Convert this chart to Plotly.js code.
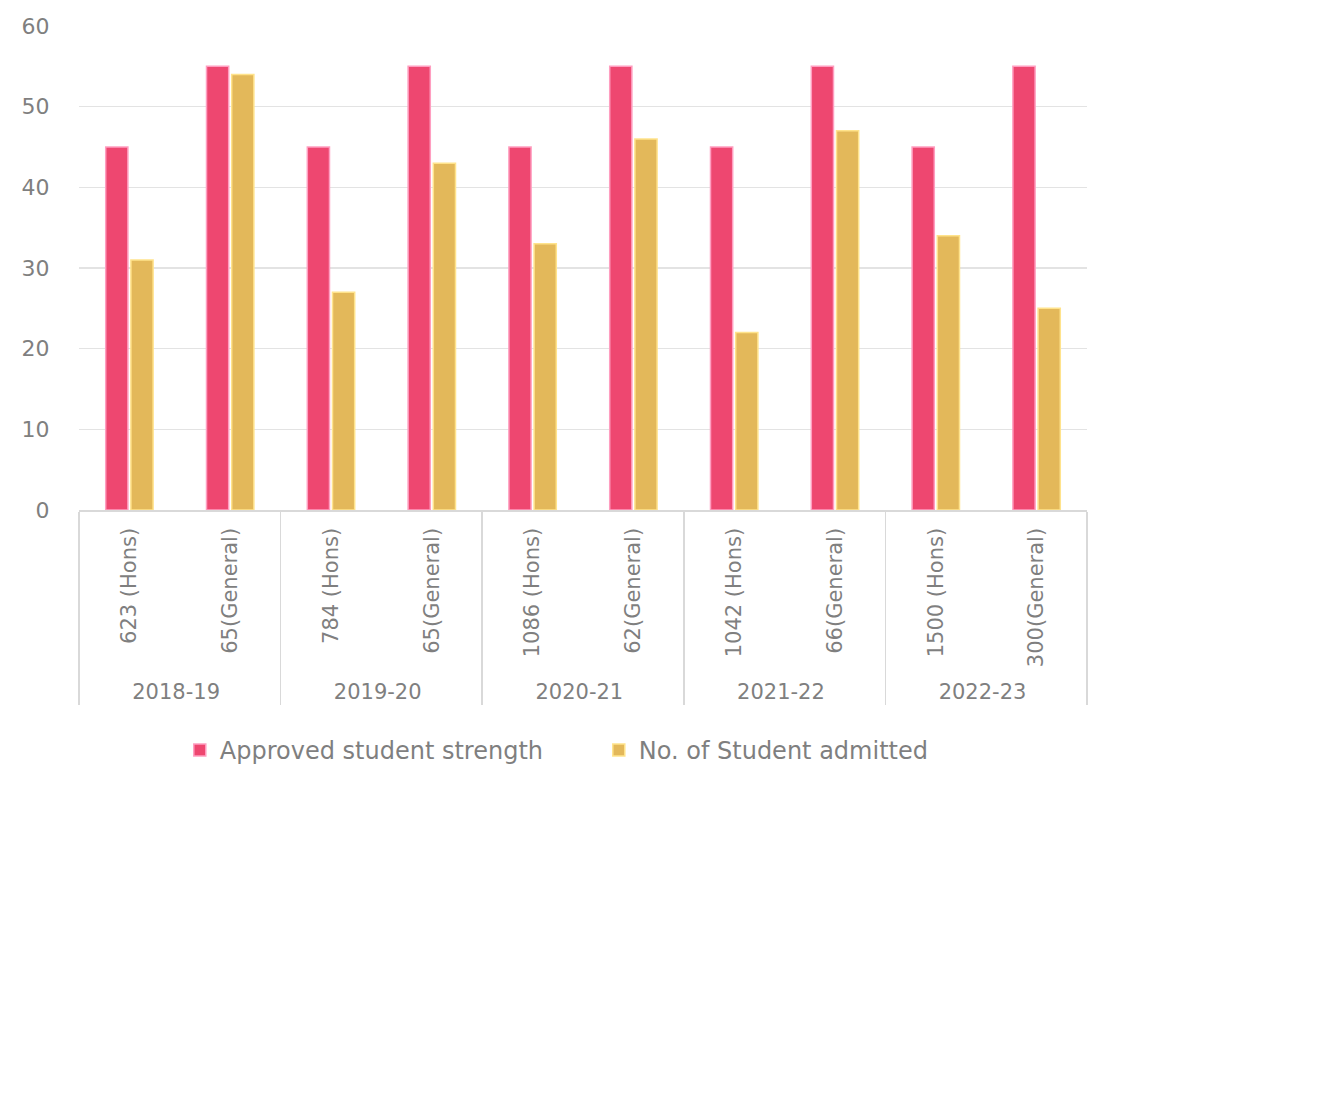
<!DOCTYPE html>
<html>
<head>
<meta charset="utf-8">
<script src="https://cdn.plot.ly/plotly-3.0.1.min.js"></script>
<style>
  html, body { margin: 0; padding: 0; background: #fff; }
  #chart { width: 1325px; height: 1103px; }
</style>
</head>
<body>
<div id="chart"></div>
<script>
'use strict';

const years = ['2018-19', '2018-19', '2019-20', '2019-20', '2020-21', '2020-21',
  '2021-22', '2021-22', '2022-23', '2022-23'];
// the second "65(General)" gets a zero width space so plotly keeps it after "784 (Hons)"
const courses = ['623 (Hons)', '65(General)', '784 (Hons)', '65(General)\u200B', '1086 (Hons)',
  '62(General)', '1042 (Hons)', '66(General)', '1500 (Hons)', '300(General)'];
const approved = [45, 55, 45, 55, 45, 55, 45, 55, 45, 55];
const admitted = [31, 54, 27, 43, 33, 46, 22, 47, 34, 25];

const grey = '#7f7f7f';
const fontFamily = 'DejaVu Sans, Verdana, sans-serif';

const trace1 = {
  type: 'bar',
  name: 'Approved student strength',
  x: [years, courses],
  y: approved,
  marker: { color: '#EE4770', line: { color: '#FF9EC0', width: 1.5 } },
  hoverinfo: 'y'
};

const trace2 = {
  type: 'bar',
  name: 'No. of Student admitted',
  x: [years, courses],
  y: admitted,
  marker: { color: '#E3B85A', line: { color: '#FFE38C', width: 1.5 } },
  hoverinfo: 'y'
};

const layout = {
  width: 1325,
  height: 1103,
  margin: { l: 79, r: 238, t: 26, b: 593 },
  paper_bgcolor: '#fff',
  plot_bgcolor: '#fff',
  font: { family: fontFamily, color: grey, size: 21 },
  barmode: 'group',
  bargap: 0.5,
  bargroupgap: 0.12,
  showlegend: true,
  legend: {
    orientation: 'h',
    x: 0.1, xanchor: 'left',
    y: -0.45, yanchor: 'top',
    font: { size: 24, color: grey },
    itemwidth: 30,
    entrywidth: 374,
    traceorder: 'normal'
  },
  xaxis: {
    type: 'multicategory',
    tickangle: -90,
    tickfont: { size: 21, color: grey },
    ticklabelstandoff: 8,
    showline: true,
    linecolor: '#d9d9d9',
    linewidth: 1.5,
    showdividers: true,
    dividercolor: '#d9d9d9',
    dividerwidth: 1.5,
    ticks: '',
    showgrid: false
  },
  yaxis: {
    range: [0, 60],
    dtick: 10,
    showgrid: true,
    gridcolor: '#e3e3e3',
    gridwidth: 1.5,
    zeroline: false,
    showline: false,
    ticks: 'outside',
    ticklen: 24,
    tickcolor: 'rgba(0,0,0,0)',
    tickfont: { size: 22, color: grey }
  }
};

Plotly.newPlot('chart', [trace1, trace2], layout, { displayModeBar: false, staticPlot: true });
</script>
</body>
</html>
